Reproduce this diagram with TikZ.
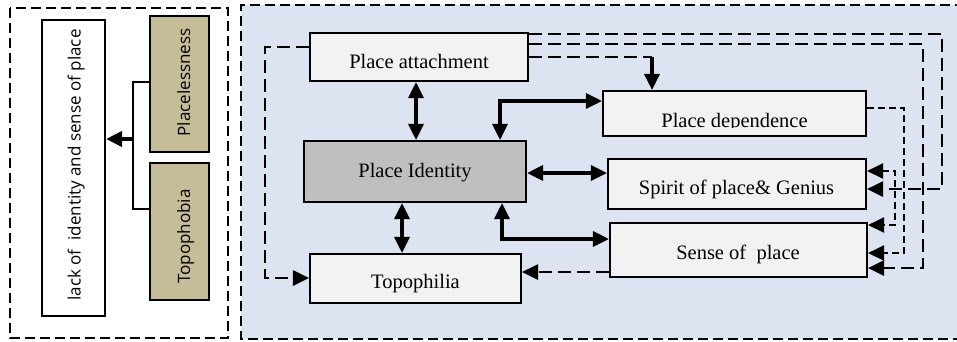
\documentclass[tikz,border=0pt]{standalone}
\usepackage{fontspec}
\setmainfont{Liberation Serif}
\newfontfamily\sidefont{Open Sans}
\usetikzlibrary{arrows.meta}

\definecolor{panelblue}{HTML}{DBE4F0}
\definecolor{boxgray}{HTML}{F2F2F2}
\definecolor{idgray}{HTML}{BFBFBF}
\definecolor{tanbox}{HTML}{C4BD97}

\tikzset{
  arr/.tip={Triangle[length=16pt,width=15pt]},
  boxed/.style={draw=black, line width=2.1pt, fill=boxgray, inner sep=0pt},
  lbl/.style={inner sep=0pt, text height=13.5pt, text depth=0pt,
              font=\fontsize{20.5}{24}\selectfont},
  sidelbl/.style={inner sep=0pt, text height=12pt, text depth=0pt, rotate=90,
              font=\sidefont\fontsize{17}{20}\selectfont},
  panel/.style={line width=2.8pt, dash pattern=on 10pt off 5pt},
  link/.style={line width=3.2pt},
  dashlink/.style={line width=2.8pt, dash pattern=on 13pt off 6pt},
  finedash/.style={line width=2.5pt, dash pattern=on 7pt off 4pt},
}

\begin{document}
\begin{tikzpicture}[x=1pt,y=-1pt]
\useasboundingbox (0,0) rectangle (957,341);

% panels
\fill[panelblue] (241,5) rectangle (965,339);
\draw[panel] (965,5) -- (241,5) -- (241,339) -- (965,339);
\draw[panel] (10,8) rectangle (228,338);

% left panel boxes
\node[boxed, fill=white, minimum width=63pt, minimum height=296pt] (lack) at (73.5,168) {};
\node[sidelbl] (lack-t) at (74.5,165) {lack of~ identity and sense of place};
\node[boxed, fill=tanbox, minimum width=59pt, minimum height=136pt] (plc) at (179.5,84) {};
\node[sidelbl] (plc-t) at (184,82.5) {Placelessness};
\node[boxed, fill=tanbox, minimum width=59pt, minimum height=137pt] (tpb) at (179.5,231.5) {};
\node[sidelbl] (tpb-t) at (184,236.5) {Topophobia};

\coordinate (fork) at (133,139);
\draw[line width=2pt] (plc.west |- 0,82) -| (fork) |- (tpb.west |- 0,209);
\draw[line width=3.8pt, -arr] (fork) -- (lack.east |- fork);

% right panel boxes
\node[boxed, minimum width=218pt, minimum height=48pt] (pa) at (419,57) {};
\node[lbl] (pa-t) at (419,62) {Place attachment};
\node[boxed, fill=idgray, minimum width=222pt, minimum height=61pt] (pi) at (415,171.5) {};
\node[lbl] (pi-t) at (415,171) {Place Identity};
\node[boxed, minimum width=263pt, minimum height=45pt] (pd) at (734.5,113.5) {};
\begin{scope}
  \clip (603,91) rectangle (866,127.5);
  \node[lbl, anchor=base] (pd-t) at (734.5,127) {Place dependence};
\end{scope}
\node[boxed, minimum width=258pt, minimum height=50pt] (spg) at (737,184) {};
\node[lbl] (spg-t) at (736.5,188) {Spirit of place\& Genius};
\node[boxed, minimum width=257pt, minimum height=54pt] (sop) at (738.5,250) {};
\node[lbl] (sop-t) at (738,252.5) {Sense of~ place};
\node[boxed, minimum width=211pt, minimum height=49pt] (tph) at (415.5,278.5) {};
\node[lbl] (tph-t) at (415.5,282) {Topophilia};

% solid two-way links around the identity box
\draw[link, arr-arr] (pa.south -| 416,0) -- (pi.north -| 416,0);
\draw[link, arr-arr] (pi.north -| 500,0) |- (pd.west |- 0,101);
\draw[link, arr-arr] (pi.east |- 0,173) -- (spg.west |- 0,173);
\draw[link, arr-arr] (pi.south -| 502,0) |- (sop.west |- 0,239);
\draw[link, arr-arr] (pi.south -| 402,0) -- (tph.north -| 402,0);

% dashed links
\coordinate (wl) at (265,278);
\draw[dashlink, -arr] (pa.west |- 0,47) -| (wl) -- (tph.west |- wl);
\draw[dashlink, -arr] (sop.west |- 0,272) -- (tph.east |- 0,272);
\coordinate (e1) at (942,189);
\draw[dashlink, -arr] (pa.east |- 0,34) -| (e1) -- (spg.east |- e1);
\coordinate (e2) at (923,268);
\draw[dashlink, -arr] (pa.east |- 0,44) -| (e2) -- (sop.east |- e2);
\coordinate (dn) at (652,57);
\draw[dashlink] (pa.east |- dn) -- (dn);
\draw[link, -arr] (dn) -- (pd.north -| dn);
\coordinate (e3) at (904,253);
\draw[finedash, -arr] (pd.east |- 0,108) -| (e3) -- (sop.east |- e3);
\coordinate (e4) at (895,225);
\draw[finedash, arr-arr] (spg.east |- 0,171) -| (e4) -- (sop.east |- e4);
\end{tikzpicture}
\end{document}
